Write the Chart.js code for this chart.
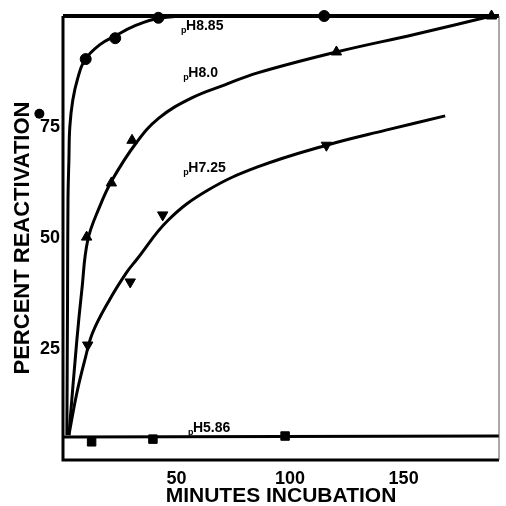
<!DOCTYPE html>
<html>
<head>
<meta charset="utf-8">
<script src="https://cdn.jsdelivr.net/npm/chart.js@4/dist/chart.umd.min.js"></script>
<style>
  html, body { margin: 0; padding: 0; background: #fff; }
  #wrap { width: 506px; height: 506px; }
</style>
</head>
<body>
<div id="wrap"><canvas id="chart"></canvas></div>
<script>
// measured points (minutes, percent)
var ph885X = [10, 23, 42, 115];
var ph885Y = [90.3, 95, 99.6, 100];
var ph80X = [10.4, 21.3, 30.4, 120.4, 188.7];
var ph80Y = [50.2, 62.4, 72, 91.9, 100];
var ph725X = [10.9, 29.6, 43.9, 116];
var ph725Y = [25.9, 40.1, 55.2, 70.9];
var ph586X = [12.6, 39.6, 97.8];
var ph586Y = [4.1, 4.7, 5.4];
// stray circle printed left of the axis
var strayX = -10.4;
var strayY = 78;

// hand-drawn curves
var curve885X = [1.7, 2, 2.2, 2.6, 3, 4.3, 6.5, 9.6, 16.1, 23, 31.3, 42.2, 59.6, 192];
var curve885Y = [5.6, 36, 58.6, 67.6, 75, 81, 86, 90.1, 93.5, 95.5, 97.7, 99.5, 100, 100];
var curve80X = [2.6, 6.1, 8.3, 10.9, 16.1, 21.7, 32.2, 42.2, 56.5, 71.3, 85.7, 120.4, 155.2, 188.7];
var curve80Y = [5.6, 27, 38.3, 49.5, 57, 63.1, 71.4, 77, 81.5, 84.5, 87.2, 91.9, 95.9, 100];
var curve725X = [2.6, 6.1, 9.6, 13, 20.4, 27.8, 32.2, 46.5, 63.9, 85.7, 116, 142.2, 168.3];
var curve725Y = [5.6, 15.1, 22.5, 28.6, 36, 42.1, 45, 54.1, 60.8, 66, 70.9, 74.3, 77.5];
var curve586X = [0, 192];
var curve586Y = [5.2, 5.4];

var xTicks = [50, 100, 150];
var yTicks = [25, 50, 75];

// curve labels: [text after "p", x, y]
var curveLabels = [
  ['H8.85', 52, 96.8],
  ['H8.0', 53, 86.3],
  ['H7.25', 53, 64.9],
  ['H5.86', 55, 6.3]
];

function pts(xs, ys) {
  return xs.map(function(x, i) { return { x: x, y: ys[i] }; });
}

function curve(xs, ys) {
  return {
    data: pts(xs, ys),
    showLine: true,
    borderColor: '#000',
    borderWidth: 3,
    pointRadius: 0,
    tension: 0.4,
    fill: false
  };
}

function marks(xs, ys, style, r, rot) {
  return {
    data: pts(xs, ys),
    showLine: false,
    pointStyle: style,
    pointRadius: r,
    pointRotation: rot || 0,
    backgroundColor: '#000',
    borderColor: '#000',
    borderWidth: 1,
    clip: false
  };
}

var framePlugin = {
  id: 'frame',
  afterDatasetsDraw: function(chart) {
    var ctx = chart.ctx, a = chart.chartArea;
    var sx = chart.scales.x, sy = chart.scales.y;
    ctx.save();
    ctx.strokeStyle = '#000';
    ctx.lineWidth = 4;
    ctx.beginPath();
    ctx.moveTo(a.left, a.top); ctx.lineTo(a.right, a.top);
    ctx.stroke();
    ctx.lineWidth = 3;
    ctx.beginPath();
    ctx.moveTo(a.left, a.top); ctx.lineTo(a.left, a.bottom); ctx.lineTo(a.right, a.bottom);
    ctx.stroke();
    ctx.lineWidth = 1;
    ctx.strokeStyle = '#555';
    ctx.beginPath();
    ctx.moveTo(a.right, a.top); ctx.lineTo(a.right, a.bottom);
    ctx.stroke();

    // stray point
    ctx.fillStyle = '#000';
    ctx.beginPath();
    ctx.arc(sx.getPixelForValue(strayX), sy.getPixelForValue(strayY), 5, 0, Math.PI * 2);
    ctx.fill();

    // pH labels
    ctx.textBaseline = 'alphabetic';
    curveLabels.forEach(function(l) {
      var px = sx.getPixelForValue(l[1]);
      var py = sy.getPixelForValue(l[2]);
      ctx.font = 'bold 9px "Liberation Sans"';
      ctx.fillText('p', px, py + 3);
      ctx.font = 'bold 14px "Liberation Sans"';
      ctx.fillText(l[0], px + 5, py);
    });
    ctx.restore();
  }
};

new Chart(document.getElementById('chart'), {
  type: 'scatter',
  data: {
    datasets: [
      curve(curve885X, curve885Y),
      curve(curve80X, curve80Y),
      curve(curve725X, curve725Y),
      curve(curve586X, curve586Y),
      marks(ph885X, ph885Y, 'circle', 5.5),
      marks(ph80X, ph80Y, 'triangle', 6),
      marks(ph725X, ph725Y, 'triangle', 6, 180),
      marks(ph586X, ph586Y, 'rect', 6)
    ]
  },
  plugins: [framePlugin],
  options: {
    responsive: true,
    maintainAspectRatio: false,
    animation: false,
    layout: { padding: { top: 16, right: 3, left: 0, bottom: 0 } },
    plugins: {
      legend: { display: false },
      tooltip: { enabled: false }
    },
    scales: {
      x: {
        type: 'linear',
        min: 0,
        max: 192,
        afterBuildTicks: function(s) { s.ticks = xTicks.map(function(v) { return { value: v }; }); },
        afterFit: function(s) { s.height = 46; },
        grid: { display: false, drawTicks: false },
        border: { display: false },
        ticks: { color: '#000', padding: 8, font: { family: 'Liberation Sans', size: 18, weight: 'bold' } },
        title: {
          display: true,
          text: 'MINUTES INCUBATION',
          color: '#000',
          padding: { top: 0, bottom: -3 },
          font: { family: 'Liberation Sans', size: 21, weight: 'bold' }
        }
      },
      y: {
        type: 'linear',
        min: 0,
        max: 100,
        afterBuildTicks: function(s) { s.ticks = yTicks.map(function(v) { return { value: v }; }); },
        afterFit: function(s) { s.width = 63; },
        grid: { display: false, drawTicks: false },
        border: { display: false },
        ticks: { color: '#000', padding: 3, font: { family: 'Liberation Sans', size: 18, weight: 'bold' } },
        title: {
          display: true,
          text: 'PERCENT REACTIVATION',
          color: '#000',
          padding: { top: 10, bottom: 0 },
          font: { family: 'Liberation Sans', size: 22, weight: 'bold' }
        }
      }
    }
  }
});
</script>
</body>
</html>
